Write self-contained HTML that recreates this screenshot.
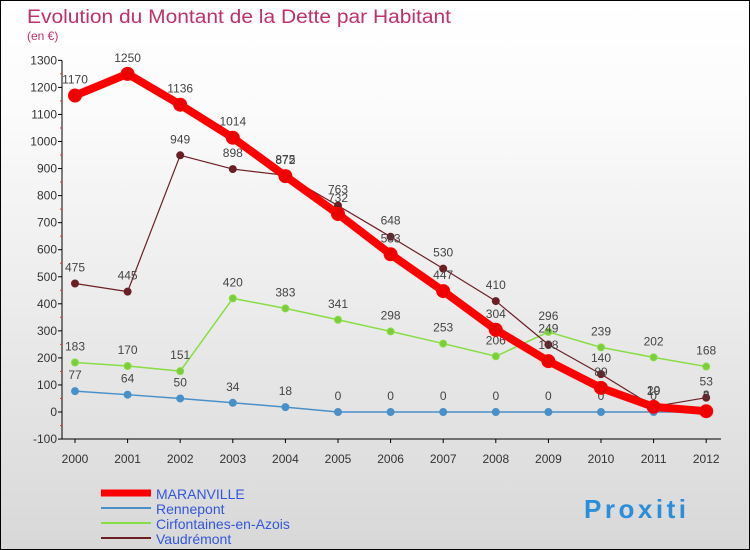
<!DOCTYPE html>
<html><head><meta charset="utf-8"><style>
body{margin:0}
#wrap{width:748px;height:548px;border:1px solid #000;background:linear-gradient(#fff,#fbfbfb 20%,#d8d8d8);position:relative;font-family:"Liberation Sans",sans-serif;overflow:hidden}
</style></head><body>
<div id="wrap">
<svg id="c" width="748" height="548"></svg>
</div>
<script>
const years=[2000,2001,2002,2003,2004,2005,2006,2007,2008,2009,2010,2011,2012];
const maranville=[1170,1250,1136,1014,872,732,583,447,304,188,89,19,3];
const rennepont=[77,64,50,34,18,0,0,0,0,0,0,0,0];
const cirfontaines=[183,170,151,420,383,341,298,253,206,296,239,202,168];
const vaudremont=[475,445,949,898,875,763,648,530,410,249,140,20,53];
const yTicks=[-100,0,100,200,300,400,500,600,700,800,900,1000,1100,1200,1300];
const NS="http://www.w3.org/2000/svg";
const svg=document.getElementById('c');
function X(i){return 74+i*52.6;}
function Y(v){return 411-v*0.2705;}
function el(t,a,p){const e=document.createElementNS(NS,t);for(const k in a)e.setAttribute(k,a[k]);(p||svg).appendChild(e);return e;}
function tx(x,y,s,o,p){const e=el('text',Object.assign({x:x,y:y,'font-size':12,fill:'#444'},o||{}),p);e.textContent=s;return e;}
let t=tx(26,22,'Evolution du Montant de la Dette par Habitant',{'font-size':19,fill:'#c0306a',textLength:424,lengthAdjust:'spacingAndGlyphs'});

t=tx(26,39,'(en €)',{'font-size':12,fill:'#c0306a'});

const ax=el('g',{});
el('line',{x1:61,y1:Y(1300),x2:61,y2:Y(-100),stroke:'#000'},ax);
yTicks.forEach(v=>{el('line',{x1:57,x2:61,y1:Y(v),y2:Y(v),stroke:'#000'},ax);
if(v<1300)el('line',{x1:59,x2:61,y1:Y(v+50),y2:Y(v+50),stroke:'#e33'},ax);
tx(56,Y(v)+4,String(v),{'text-anchor':'end',fill:'#333'},ax);});
const xa=el('g',{});
el('line',{x1:61,x2:720,y1:Y(-100),y2:Y(-100),stroke:'#000'},xa);
years.forEach((y,i)=>{el('line',{x1:X(i),x2:X(i),y1:Y(-100),y2:Y(-100)+4,stroke:'#000'},xa);
tx(X(i),Y(-100)+24,String(y),{'text-anchor':'middle',fill:'#333'},xa);});
function series(name,data,color,w,r,dot){
 const g=el('g',{});
 el('polyline',{points:data.map((v,i)=>X(i)+','+Y(v)).join(' '),fill:'none',stroke:color,'stroke-width':w,'stroke-linejoin':'round'},g);
 data.forEach((v,i)=>{const c=el('circle',{cx:X(i),cy:Y(v),r:r,fill:dot,stroke:color,'stroke-width':1},g);
 tx(X(i),Y(v)-12,String(v),{'text-anchor':'middle',fill:'#444'},g);});
}
series('rennepont-series',rennepont,'#4a90c8',1.5,3.5,'#4a90c8');
series('cirfontaines-series',cirfontaines,'#88dd44',1.5,3.5,'#7ccc3c');
series('vaudremont-series',vaudremont,'#6b1f25',1.2,3.5,'#6b1f25');
series('maranville-series',maranville,'#ff0000',8,6.5,'#ee0000');
const leg=[['MARANVILLE','#ff0000',7],['Rennepont','#4a90c8',2],['Cirfontaines-en-Azois','#88dd44',2],['Vaudrémont','#6b1f25',2]];
leg.forEach((l,i)=>{const g=el('g',{});
 const y=492+i*15;el('line',{x1:100,x2:150,y1:y,y2:y,stroke:l[1],'stroke-width':l[2]},g);
 tx(155,y+6,l[0],{'font-size':14,fill:'#3355dd'},g);});
const lg=el('g',{});
tx(583,517,'Proxiti',{'font-size':26,'font-weight':'bold',fill:'#2a8fd8',textLength:102,lengthAdjust:'spacing'},lg);
</script>
</body></html>
